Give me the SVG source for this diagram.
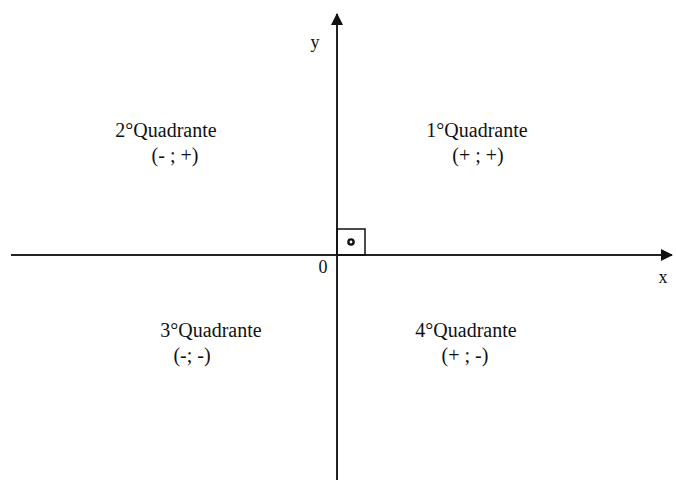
<svg xmlns="http://www.w3.org/2000/svg" width="676" height="489" viewBox="0 0 676 489">
<style>
text{font-family:"Liberation Serif","Times New Roman",serif;fill:#111;}
.q{font-size:20px;text-anchor:middle;}
.ax{stroke:#222;stroke-width:2;fill:none;}
</style>
<defs>
<marker id="ah" markerWidth="12" markerHeight="12" refX="11" refY="6" orient="auto" markerUnits="userSpaceOnUse" viewBox="0 0 12 12">
<path d="M0,0 L12,6 L0,12 z" fill="#111"/>
</marker>
</defs>
<rect width="676" height="489" fill="#fff"/>
<g id="connectors">
<line class="ax" x1="11" y1="255" x2="672" y2="255" marker-end="url(#ah)"/>
<line class="ax" x1="337" y1="480" x2="337" y2="14" marker-end="url(#ah)"/>
</g>
<g id="right-angle">
<rect x="337" y="229" width="28" height="26" fill="none" stroke="#111" stroke-width="1.5"/>
<circle cx="351" cy="242" r="2.6" fill="none" stroke="#111" stroke-width="2.4"/>
</g>
<g id="labels">
<text x="315" y="48" style="font-size:18px" text-anchor="middle">y</text>
<text x="663" y="283" style="font-size:18px" text-anchor="middle">x</text>
<text x="323" y="273" style="font-size:18px" text-anchor="middle">0</text>
</g>
<g id="q1">
<text class="q" x="477" y="137">1°Quadrante</text>
<text class="q" x="478" y="162">(+ ; +)</text>
</g>
<g id="q2">
<text class="q" x="166" y="137">2°Quadrante</text>
<text class="q" x="175" y="162">(- ; +)</text>
</g>
<g id="q3">
<text class="q" x="211" y="337">3°Quadrante</text>
<text class="q" x="192" y="362">(-; -)</text>
</g>
<g id="q4">
<text class="q" x="466" y="337">4°Quadrante</text>
<text class="q" x="465" y="362">(+ ; -)</text>
</g>
</svg>
